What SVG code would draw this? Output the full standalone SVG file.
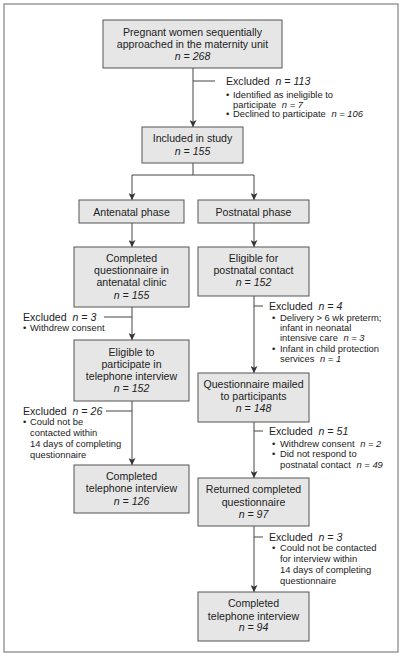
<svg xmlns="http://www.w3.org/2000/svg" width="403" height="657" viewBox="0 0 403 657">
<style>
.box{fill:#e6e6e6;stroke:#555;stroke-width:1}
.t{font-family:"Liberation Sans",Arial,sans-serif;font-size:10.6px;fill:#222;text-anchor:middle}
.x{font-family:"Liberation Sans",Arial,sans-serif;font-size:10.6px;fill:#222}
.b{font-family:"Liberation Sans",Arial,sans-serif;font-size:9.4px;fill:#222}
.i{font-style:italic}
.c{fill:none;stroke:#444;stroke-width:1}
</style>
<defs>
<marker id="ah" viewBox="0 0 8 8" refX="8" refY="4" markerWidth="7" markerHeight="7" markerUnits="userSpaceOnUse" orient="auto">
<path d="M0,0 L8,4 L0,8 L2,4 z" fill="#333"/>
</marker>
</defs>
<rect x="4" y="4" width="394" height="648" fill="#fff" stroke="#9a9a9a" stroke-width="1.5"/>

<g id="connectors">
<line class="c" x1="193" y1="68" x2="193" y2="127" marker-end="url(#ah)"/>
<line class="c" x1="193" y1="81" x2="215" y2="81"/>
<polyline class="c" points="193,163 193,175"/>
<polyline class="c" points="132,175 254,175"/>
<line class="c" x1="132" y1="175" x2="132" y2="200" marker-end="url(#ah)"/>
<line class="c" x1="254" y1="175" x2="254" y2="200" marker-end="url(#ah)"/>
<line class="c" x1="132" y1="223" x2="132" y2="247" marker-end="url(#ah)"/>
<line class="c" x1="254" y1="223" x2="254" y2="247" marker-end="url(#ah)"/>
<line class="c" x1="132" y1="307" x2="132" y2="340" marker-end="url(#ah)"/>
<line class="c" x1="104" y1="317" x2="132" y2="317"/>
<line class="c" x1="132" y1="401" x2="132" y2="465" marker-end="url(#ah)"/>
<line class="c" x1="106" y1="411" x2="132" y2="411"/>
<line class="c" x1="254" y1="296" x2="254" y2="373" marker-end="url(#ah)"/>
<line class="c" x1="254" y1="306" x2="263" y2="306"/>
<line class="c" x1="254" y1="422" x2="254" y2="478" marker-end="url(#ah)"/>
<line class="c" x1="254" y1="431" x2="263" y2="431"/>
<line class="c" x1="254" y1="526" x2="254" y2="592" marker-end="url(#ah)"/>
<line class="c" x1="254" y1="537" x2="263" y2="537"/>
</g>

<g id="n1">
<rect class="box" x="103" y="20" width="179" height="48"/>
<text class="t" x="192.5" y="36">Pregnant women sequentially</text>
<text class="t" x="192.5" y="48">approached in the maternity unit</text>
<text class="t i" x="192.5" y="60">n = 268</text>
</g>
<g id="ex1">
<text class="x" x="226" y="85">Excluded <tspan class="i" dx="3">n = 113</tspan></text>
<text class="b" x="226" y="97.5">•</text>
<text class="b" x="233" y="97.5">Identified as ineligible to</text>
<text class="b" x="233" y="107.5">participate <tspan class="i" dx="3">n = 7</tspan></text>
<text class="b" x="226" y="117">•</text>
<text class="b" x="233" y="117">Declined to participate <tspan class="i" dx="3">n = 106</tspan></text>
</g>
<g id="n2">
<rect class="box" x="142" y="127" width="101" height="36"/>
<text class="t" x="192.5" y="142">Included in study</text>
<text class="t i" x="192.5" y="154.5">n = 155</text>
</g>
<g id="n3">
<rect class="box" x="79" y="200" width="105" height="23"/>
<text class="t" x="131.5" y="215.5">Antenatal phase</text>
</g>
<g id="n4">
<rect class="box" x="198" y="200" width="111" height="23"/>
<text class="t" x="253.5" y="215.5">Postnatal phase</text>
</g>
<g id="n5">
<rect class="box" x="74" y="247" width="115" height="60"/>
<text class="t" x="131.5" y="262">Completed</text>
<text class="t" x="131.5" y="274">questionnaire in</text>
<text class="t" x="131.5" y="286">antenatal clinic</text>
<text class="t i" x="131.5" y="298.5">n = 155</text>
</g>
<g id="n6">
<rect class="box" x="198" y="247" width="111" height="49"/>
<text class="t" x="253.5" y="262">Eligible for</text>
<text class="t" x="253.5" y="274">postnatal contact</text>
<text class="t i" x="253.5" y="286">n = 152</text>
</g>
<g id="ex2">
<text class="x" x="23" y="321">Excluded <tspan class="i" dx="3">n = 3</tspan></text>
<text class="b" x="23" y="331">•</text>
<text class="b" x="30" y="331">Withdrew consent</text>
</g>
<g id="ex3">
<text class="x" x="269" y="310">Excluded <tspan class="i" dx="3">n = 4</tspan></text>
<text class="b" x="272" y="321">•</text>
<text class="b" x="280" y="321">Delivery &gt; 6 wk preterm;</text>
<text class="b" x="280" y="331">infant in neonatal</text>
<text class="b" x="280" y="341">intensive care <tspan class="i" dx="3">n = 3</tspan></text>
<text class="b" x="272" y="351.5">•</text>
<text class="b" x="280" y="351.5">Infant in child protection</text>
<text class="b" x="280" y="362">services <tspan class="i" dx="3">n = 1</tspan></text>
</g>
<g id="n7">
<rect class="box" x="74" y="340" width="115" height="61"/>
<text class="t" x="131.5" y="355.5">Eligible to</text>
<text class="t" x="131.5" y="367.5">participate in</text>
<text class="t" x="131.5" y="379.5">telephone interview</text>
<text class="t i" x="131.5" y="392">n = 152</text>
</g>
<g id="n8">
<rect class="box" x="198" y="373" width="111" height="49"/>
<text class="t" x="253.5" y="387.5">Questionnaire mailed</text>
<text class="t" x="253.5" y="399.5">to participants</text>
<text class="t i" x="253.5" y="412">n = 148</text>
</g>
<g id="ex4">
<text class="x" x="23" y="414.5">Excluded <tspan class="i" dx="3">n = 26</tspan></text>
<text class="b" x="23" y="424.5">•</text>
<text class="b" x="30" y="424.5">Could not be</text>
<text class="b" x="30" y="435.5">contacted within</text>
<text class="b" x="30" y="446.5">14 days of completing</text>
<text class="b" x="30" y="457.5">questionnaire</text>
</g>
<g id="ex5">
<text class="x" x="269" y="434.5">Excluded <tspan class="i" dx="3">n = 51</tspan></text>
<text class="b" x="272" y="446.5">•</text>
<text class="b" x="280" y="446.5">Withdrew consent <tspan class="i" dx="3">n = 2</tspan></text>
<text class="b" x="272" y="457">•</text>
<text class="b" x="280" y="457">Did not respond to</text>
<text class="b" x="280" y="468">postnatal contact <tspan class="i" dx="3">n = 49</tspan></text>
</g>
<g id="n9">
<rect class="box" x="74" y="465" width="115" height="48"/>
<text class="t" x="131.5" y="480">Completed</text>
<text class="t" x="131.5" y="492">telephone interview</text>
<text class="t i" x="131.5" y="505">n = 126</text>
</g>
<g id="n10">
<rect class="box" x="198" y="478" width="111" height="48"/>
<text class="t" x="253.5" y="493">Returned completed</text>
<text class="t" x="253.5" y="505.5">questionnaire</text>
<text class="t i" x="253.5" y="518">n = 97</text>
</g>
<g id="ex6">
<text class="x" x="269" y="540.5">Excluded <tspan class="i" dx="3">n = 3</tspan></text>
<text class="b" x="272" y="551">•</text>
<text class="b" x="280" y="551">Could not be contacted</text>
<text class="b" x="280" y="562">for interview within</text>
<text class="b" x="280" y="573">14 days of completing</text>
<text class="b" x="280" y="584">questionnaire</text>
</g>
<g id="n11">
<rect class="box" x="198" y="592" width="111" height="49"/>
<text class="t" x="253.5" y="607">Completed</text>
<text class="t" x="253.5" y="619.5">telephone interview</text>
<text class="t i" x="253.5" y="631">n = 94</text>
</g>
</svg>
